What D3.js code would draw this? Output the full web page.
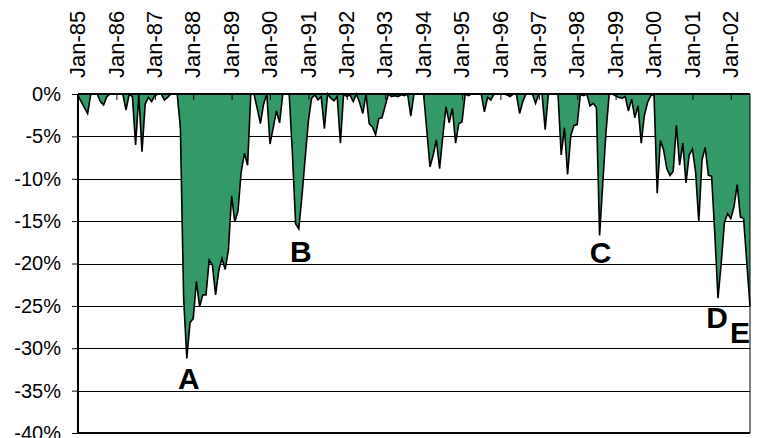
<!DOCTYPE html>
<html>
<head>
<meta charset="utf-8">
<script src="https://cdn.jsdelivr.net/npm/d3@7"></script>
<style>
  body { margin: 0; background: #fff; }
  svg { display: block; font-family: Arial, "Liberation Sans", sans-serif; }
</style>
</head>
<body>
<svg width="757" height="438"></svg>
<script>
// monthly drawdown (%), Jan-85 .. Jul-02
const drawdown = [
  -0.2, -0.9, -1.6, -2.3, 0, 0, 0, -0.9, -1.3, -0.3, 0, 0,
  0, 0, 0, -1.9, 0, -0.3, -6.0, -0.1, -6.8, -1.2, -0.4, -0.9,
  -0.2, 0, 0, -0.7, -0.4, 0, 0, 0, -4.0, -24.0, -31.2, -27.0,
  -26.5, -22.1, -25.1, -23.7, -23.7, -19.6, -20.2, -23.7, -20.8, -19.4, -20.7, -18.4,
  -12.0, -15.1, -13.8, -9.2, -7.0, -8.4, 0, 0, -1.7, -3.5, -1.2, 0,
  -5.9, -4.0, -2.0, -3.4, 0, 0, 0, -7.0, -15.3, -15.9, -12.0, -7.5,
  -3.2, -0.5, -0.1, -0.7, -0.3, -4.1, 0, -0.5, -0.8, -0.3, -5.8, 0,
  -0.3, -0.1, -0.9, 0, -1.0, -2.3, 0, -3.5, -3.9, -4.8, -2.9, -2.8,
  -1.4, 0, -0.3, -0.2, -0.3, -0.1, -0.2, 0, -2.6, 0, 0, 0,
  0, -4.3, -8.6, -7.2, -5.4, -8.8, -5.0, -1.5, -3.4, -1.7, -5.8, -3.5,
  -3.3, 0, -0.2, 0, 0, 0, 0, -2.1, -0.4, -0.7, 0, 0,
  0, 0, -0.1, -0.3, 0, 0, -2.3, -0.9, 0, 0, 0, -1.1,
  0, 0, -4.2, 0, 0, 0, 0, -7.2, -4.0, -9.5, -4.9, -3.7,
  -3.6, 0, -0.2, 0, -1.4, -1.1, -1.6, -16.7, -10.5, -4.5, 0, 0,
  -0.2, -0.4, -0.5, -0.3, -2.0, -0.6, -2.8, -1.4, -5.8, -2.5, -1.0, -0.2,
  0, -11.7, -5.5, -6.6, -8.8, -9.6, -9.1, -3.7, -8.4, -5.8, -10.5, -7.2,
  -6.5, -9.2, -15.1, -7.8, -6.3, -9.6, -9.7, -16.5, -24.1, -20.0, -15.2, -14.1,
  -14.7, -13.3, -10.7, -14.5, -14.7, -19.9, -25.0
];

const tickLabels = ['Jan-85', 'Jan-86', 'Jan-87', 'Jan-88', 'Jan-89', 'Jan-90', 'Jan-91', 'Jan-92', 'Jan-93',
  'Jan-94', 'Jan-95', 'Jan-96', 'Jan-97', 'Jan-98', 'Jan-99', 'Jan-00', 'Jan-01', 'Jan-02'];
const yTicks = [0, -5, -10, -15, -20, -25, -30, -35, -40];

const eventLabels = ['A', 'B', 'C', 'D', 'E'];
const eventMonth = [34, 69, 163, 200, 210];

// label nudges (px) relative to the trough point
const eventDx = [2, 2, 1, -1, -10];
const eventDy = [31, 33, 27, 30, 37];

const svg = d3.select('svg');

const plotLeft = 78, plotRight = 750, plotTop = 94, plotBottom = 433;

const x = d3.scaleLinear()
  .domain([0, drawdown.length - 1])
  .range([plotLeft, plotRight]);

const y = d3.scaleLinear()
  .domain([-40, 0])
  .range([plotBottom, plotTop]);

// gridlines
svg.append('g')
  .selectAll('line')
  .data(yTicks)
  .join('line')
  .attr('x1', plotLeft)
  .attr('x2', plotRight)
  .attr('y1', d => Math.round(y(d)) + 0.5)
  .attr('y2', d => Math.round(y(d)) + 0.5)
  .attr('stroke', '#000')
  .attr('stroke-width', 1.2);

// area
svg.append('path')
  .datum(drawdown)
  .attr('fill', '#339966')
  .attr('d', d3.area()
    .x((d, i) => x(i))
    .y0(y(0))
    .y1(d => y(d)));

svg.append('path')
  .datum(drawdown)
  .attr('fill', 'none')
  .attr('stroke', '#000')
  .attr('stroke-width', 1.6)
  .attr('d', d3.line()
    .x((d, i) => x(i))
    .y(d => y(d)));

// plot frame
svg.append('line')
  .attr('x1', plotRight).attr('x2', plotRight)
  .attr('y1', plotTop).attr('y2', plotBottom)
  .attr('stroke', '#000').attr('stroke-width', 1);
svg.append('line')
  .attr('x1', plotLeft).attr('x2', plotRight)
  .attr('y1', plotBottom).attr('y2', plotBottom)
  .attr('stroke', '#000').attr('stroke-width', 2);

// y axis
const yAxis = svg.append('g')
  .attr('transform', `translate(${plotLeft},0)`)
  .call(d3.axisLeft(y)
    .tickValues(yTicks)
    .tickFormat(d => d + '%')
    .tickSizeInner(6)
    .tickSizeOuter(0)
    .tickPadding(11));
yAxis.select('.domain').remove();
yAxis.selectAll('line').attr('stroke', '#000');
yAxis.selectAll('text')
  .attr('fill', '#000')
  .style('font-size', '20px')
  .style('font-family', 'Arial, "Liberation Sans", sans-serif');

// x axis along 0%
const xAxis = svg.append('g')
  .attr('transform', `translate(0,${y(0)})`)
  .call(d3.axisTop(x)
    .tickValues(tickLabels.map((d, k) => k * 12))
    .tickFormat((d, k) => tickLabels[k])
    .tickSizeInner(-6)
    .tickSizeOuter(0)
    .tickPadding(0));
xAxis.select('.domain').remove();
xAxis.selectAll('line').attr('stroke', '#000').attr('stroke-width', 1);
xAxis.selectAll('text')
  .attr('transform', 'rotate(-90)')
  .attr('x', 16)
  .attr('y', 0)
  .attr('dy', '0.3em')
  .attr('fill', '#000')
  .style('text-anchor', 'start')
  .style('font-size', '22px')
  .style('font-family', 'Arial, "Liberation Sans", sans-serif');

// axis lines
svg.append('line')
  .attr('x1', plotLeft).attr('x2', plotRight)
  .attr('y1', y(0)).attr('y2', y(0))
  .attr('stroke', '#000').attr('stroke-width', 2);
svg.append('line')
  .attr('x1', plotLeft).attr('x2', plotLeft)
  .attr('y1', plotTop).attr('y2', plotBottom)
  .attr('stroke', '#000').attr('stroke-width', 2);

// event labels
svg.append('g')
  .selectAll('text')
  .data(eventLabels)
  .join('text')
  .attr('x', (d, k) => x(eventMonth[k]) + eventDx[k])
  .attr('y', (d, k) => y(drawdown[eventMonth[k]]) + eventDy[k])
  .attr('text-anchor', 'middle')
  .attr('fill', '#000')
  .style('font-size', '30px')
  .style('font-weight', 'bold')
  .text(d => d);
</script>
</body>
</html>
